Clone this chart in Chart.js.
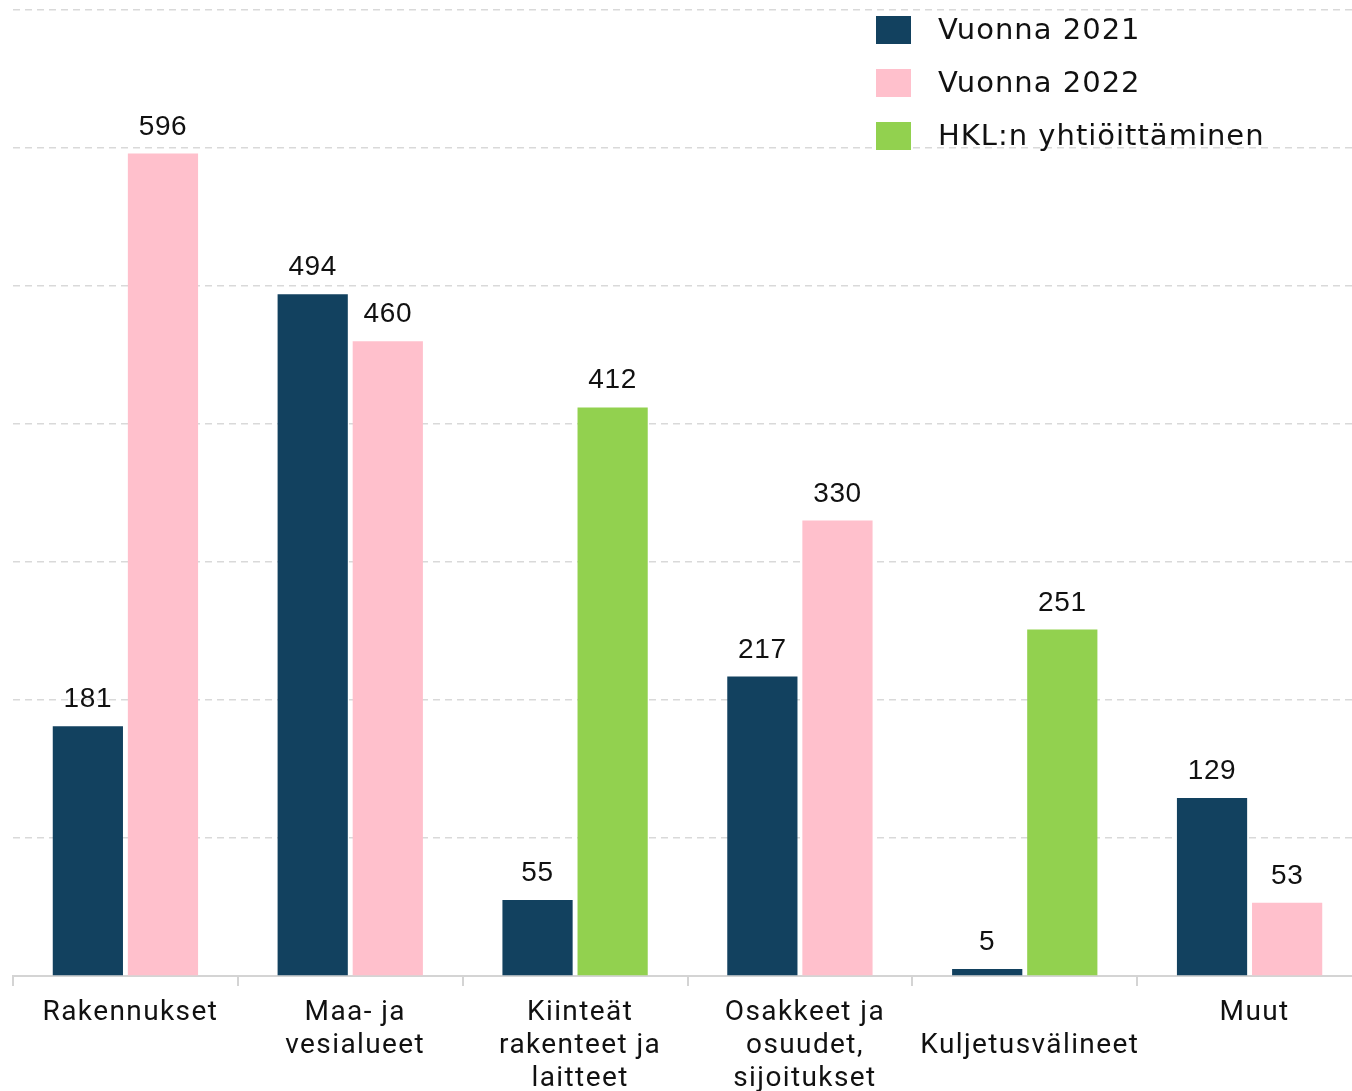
<!DOCTYPE html>
<html>
<head>
<meta charset="utf-8">
<script src="https://cdn.jsdelivr.net/npm/chart.js@4"></script>
<style>
  html, body { margin: 0; padding: 0; background: #fff; overflow: hidden; }
  #wrap { width: 1352px; height: 1091px; position: relative; overflow: hidden; }
  #inner { width: 1362px; height: 1091px; position: absolute; left: 0; top: 0; }
</style>
</head>
<body>
<div id="wrap"><div id="inner"><canvas id="chart"></canvas></div></div>
<script>
// Categories (multi-line labels as in the source)
const categories = [
    'Rakennukset',
    ['Maa- ja', 'vesialueet'],
    ['Kiinteät', 'rakenteet ja', 'laitteet'],
    ['Osakkeet ja', 'osuudet,', 'sijoitukset'],
    ['', 'Kuljetusvälineet'],
    'Muut'
];

// Series values (null = no bar in that group)
const values2021 = [181, 494, 55, 217, 5, 129];
const values2022 = [596, 460, null, 330, null, 53];
const valuesHkl = [null, null, 412, null, 251, null];

const seriesLabels = ['Vuonna 2021', 'Vuonna 2022', 'HKL:n yhtiöittäminen'];
const seriesColors = ['#12415f', '#ffc0cc', '#92d14f'];

// Value labels above each bar
const barValuePlugin = {
    id: 'barValues',
    afterDatasetsDraw(chart) {
        const ctx = chart.ctx;
        ctx.save();
        ctx.font = '28px "Liberation Sans", Arial, sans-serif';
        ctx.letterSpacing = '0.6px';
        ctx.fillStyle = '#111';
        ctx.textAlign = 'center';
        ctx.textBaseline = 'alphabetic';
        chart.data.datasets.forEach((ds, i) => {
            const meta = chart.getDatasetMeta(i);
            meta.data.forEach((bar, j) => {
                const v = ds.data[j];
                if (v === null || v === undefined) return;
                ctx.fillText(String(v), bar.x, bar.y - 19);
            });
        });
        ctx.restore();
    }
};

// Legend in the top right corner, drawn over the grid
const cornerLegend = {
    id: 'cornerLegend',
    afterDraw(chart) {
        const ctx = chart.ctx;
        ctx.save();
        ctx.font = '29px "DejaVu Sans", sans-serif';
        ctx.letterSpacing = '1px';
        ctx.textBaseline = 'middle';
        ctx.textAlign = 'left';
        chart.data.datasets.forEach((ds, i) => {
            const cy = 30 + i * 53;
            ctx.fillStyle = ds.backgroundColor;
            ctx.fillRect(876, cy - 14, 35, 28);
            ctx.fillStyle = '#111';
            ctx.fillText(ds.label, 938, cy + 1);
        });
        ctx.restore();
    }
};

// Spaced-out axis lettering
const tickSpacing = {
    id: 'tickSpacing',
    beforeDraw(chart) { chart.ctx.letterSpacing = '1.4px'; },
    afterDraw(chart) { chart.ctx.letterSpacing = '0px'; }
};

const ctx = document.getElementById('chart').getContext('2d');
new Chart(ctx, {
    type: 'bar',
    data: {
        labels: categories,
        datasets: [values2021, values2022, valuesHkl].map((vals, i) => ({
            label: seriesLabels[i],
            data: vals,
            backgroundColor: seriesColors[i],
            borderWidth: 0,
            skipNull: true,
            categoryPercentage: 0.668,
            barPercentage: 0.935
        }))
    },
    options: {
        responsive: true,
        maintainAspectRatio: false,
        animation: false,
        layout: { padding: { left: 13, right: 0, top: 10, bottom: 0 } },
        plugins: {
            legend: { display: false },
            tooltip: { enabled: false }
        },
        scales: {
            x: {
                offset: true,
                grid: {
                    offset: true,
                    drawOnChartArea: false,
                    drawTicks: true,
                    tickLength: 10,
                    color: '#d4d4d4',
                    lineWidth: 2
                },
                border: { display: true, color: '#d4d4d4', width: 2 },
                ticks: {
                    color: '#111',
                    maxRotation: 0,
                    autoSkip: false,
                    padding: 10,
                    labelOffset: 5,
                    font: { family: 'Roboto, sans-serif', size: 28, lineHeight: 1.18 }
                },
                afterFit(scale) { scale.height = 115; }
            },
            y: {
                min: 0,
                max: 700,
                ticks: { display: false, stepSize: 100 },
                border: { display: false, dash: [7, 5] },
                grid: {
                    drawTicks: false,
                    color: '#d9d9d9',
                    lineWidth: 1.5
                },
                afterFit(scale) { scale.width = 0; }
            }
        }
    },
    plugins: [tickSpacing, barValuePlugin, cornerLegend]
});
</script>
</body>
</html>
